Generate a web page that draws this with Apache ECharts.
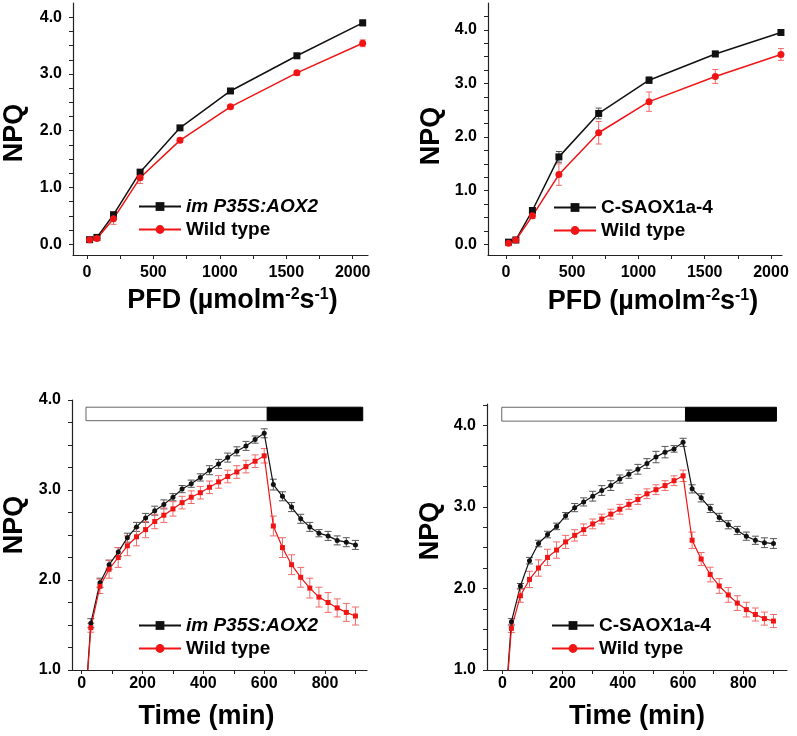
<!DOCTYPE html>
<html>
<head>
<meta charset="utf-8">
<script src="https://cdn.jsdelivr.net/npm/echarts@6/dist/echarts.min.js"></script>
<style>
  html, body { margin: 0; padding: 0; background: #fff; }
  #main { width: 797px; height: 736px; }
</style>
</head>
<body>
<div id="main"></div>
<script>
// light response (top row)
var pfd = [20, 75, 200, 400, 700, 1080, 1580, 2075];
var npqAox2 = [0.08, 0.12, 0.52, 1.27, 2.05, 2.70, 3.32, 3.90];
var errAox2 = [0.02, 0.02, 0.04, 0.04, 0.04, 0.03, 0.03, 0.05];
var npqWt1 = [0.08, 0.10, 0.45, 1.17, 1.83, 2.42, 3.02, 3.54];
var errWt1 = [0.03, 0.03, 0.10, 0.10, 0.04, 0.03, 0.04, 0.06];
var npqSaox = [0.04, 0.08, 0.63, 1.63, 2.44, 3.06, 3.55, 3.95];
var errSaox = [0.02, 0.02, 0.03, 0.10, 0.10, 0.06, 0.05, 0.04];
var npqWt2 = [0.02, 0.08, 0.53, 1.30, 2.08, 2.66, 3.13, 3.54];
var errWt2 = [0.02, 0.02, 0.05, 0.20, 0.21, 0.18, 0.13, 0.11];

// time course (bottom row)
var times = [0, 30, 60, 90, 120, 150, 180, 210, 240, 270, 300, 330, 360, 390, 420, 450,
  480, 510, 540, 570, 600, 630, 660, 690, 720, 750, 780, 810, 840, 870, 900];
var tAox2 = [0.05, 1.52, 1.97, 2.17, 2.31, 2.47, 2.59, 2.69, 2.77, 2.84, 2.92, 3.01, 3.07, 3.14, 3.22, 3.29,
  3.36, 3.43, 3.49, 3.56, 3.63, 3.06, 2.93, 2.81, 2.68, 2.59, 2.52, 2.49, 2.44, 2.42, 2.39];
var tAox2Err = [null, 0.05, 0.05, 0.05, 0.05, 0.05, 0.05, 0.05, 0.05, 0.05, 0.04, 0.04, 0.04, 0.04, 0.05, 0.05,
  0.05, 0.05, 0.05, 0.04, 0.05, 0.06, 0.05, 0.05, 0.05, 0.05, 0.04, 0.05, 0.05, 0.05, 0.05];
var tWt1 = [0.05, 1.47, 1.93, 2.12, 2.25, 2.38, 2.48, 2.56, 2.65, 2.72, 2.79, 2.86, 2.92, 2.97, 3.03, 3.09,
  3.15, 3.20, 3.26, 3.32, 3.38, 2.60, 2.36, 2.17, 2.03, 1.91, 1.81, 1.75, 1.69, 1.64, 1.60];
var tWt1Err = [null, 0.05, 0.08, 0.10, 0.11, 0.11, 0.10, 0.09, 0.08, 0.08, 0.08, 0.07, 0.07, 0.07, 0.07, 0.07,
  0.07, 0.07, 0.07, 0.07, 0.08, 0.11, 0.11, 0.11, 0.11, 0.11, 0.11, 0.11, 0.10, 0.10, 0.10];
var tSaox = [0.05, 1.59, 2.03, 2.34, 2.55, 2.66, 2.76, 2.89, 2.99, 3.06, 3.13, 3.20, 3.26, 3.34, 3.40, 3.46,
  3.53, 3.61, 3.67, 3.71, 3.79, 3.22, 3.11, 2.98, 2.87, 2.78, 2.71, 2.64, 2.59, 2.56, 2.55];
var tSaoxErr = [null, 0.04, 0.03, 0.04, 0.04, 0.04, 0.04, 0.04, 0.05, 0.05, 0.06, 0.06, 0.06, 0.05, 0.05, 0.06,
  0.06, 0.07, 0.07, 0.04, 0.05, 0.05, 0.05, 0.05, 0.05, 0.05, 0.05, 0.05, 0.05, 0.06, 0.06];
var tWt2 = [0.05, 1.51, 1.91, 2.11, 2.25, 2.38, 2.47, 2.57, 2.65, 2.72, 2.79, 2.85, 2.91, 2.97, 3.03, 3.09,
  3.16, 3.21, 3.26, 3.32, 3.38, 2.59, 2.36, 2.17, 2.03, 1.92, 1.82, 1.74, 1.68, 1.63, 1.60];
var tWt2Err = [null, 0.05, 0.08, 0.10, 0.10, 0.10, 0.10, 0.08, 0.07, 0.07, 0.06, 0.06, 0.06, 0.06, 0.06, 0.06,
  0.06, 0.06, 0.06, 0.06, 0.07, 0.10, 0.08, 0.09, 0.09, 0.09, 0.09, 0.09, 0.08, 0.08, 0.08];

// light / dark period bars [start, end] and their NPQ band [bottom, top]
var lightBar3 = [14, 610], darkBar3 = [610, 924], barBand3 = [3.77, 3.92];
var lightBar4 = [-2, 608], darkBar4 = [608, 910], barBand4 = [4.05, 4.22];

// tick values
var pfdLabels = [0, 500, 1000, 1500, 2000];
var pfdTicks = [0, 250, 500, 750, 1000, 1250, 1500, 1750, 2000];
var timeLabels = [0, 200, 400, 600, 800];
var timeTicks = [0, 100, 200, 300, 400, 500, 600, 700, 800, 900];
var npqLabelsTop = [0, 1, 2, 3, 4];
var npqTicksTop = [0, 0.25, 0.5, 0.75, 1, 1.25, 1.5, 1.75, 2, 2.25, 2.5, 2.75, 3, 3.25, 3.5, 3.75, 4, 4.25];
var npqLabelsBot = [1, 2, 3, 4];
var npqTicksBot = [1, 1.25, 1.5, 1.75, 2, 2.25, 2.5, 2.75, 3, 3.25, 3.5, 3.75, 4];

var FONT = "'Liberation Sans', Arial, sans-serif";
var BLACK = '#111', RED = '#f01414';
var NAME_A = 'im P35S:AOX2', NAME_B = 'C-SAOX1a-4', NAME_WT = 'Wild type';
var PFD_NAME = 'PFD (µmolm{sup|-2}s{sup|-1})';

var chart = echarts.init(document.getElementById('main'));

var xAxes = [], yAxes = [];
function addAxes(gi, o) {
  xAxes.push({
    type: 'value', gridIndex: gi, min: o.xmin, max: o.xmax, position: 'bottom',
    axisLine: { show: true, onZero: false, lineStyle: { color: '#222', width: 1.2 } },
    axisTick: { show: true, length: 4, customValues: o.xticks, lineStyle: { color: '#222', width: 1 } },
    axisLabel: {
      customValues: o.xlab, margin: o.xmargin, fontSize: 16, fontWeight: 'bold', color: '#000', fontFamily: FONT,
      formatter: function (v) { return String(v); }
    },
    splitLine: { show: false },
    name: o.xname, nameLocation: 'middle', nameGap: o.xgap,
    nameTextStyle: {
      fontSize: 27, fontWeight: 'bold', color: '#000', fontFamily: FONT, padding: o.xpad,
      rich: { sup: { fontSize: 16, fontWeight: 'bold', fontFamily: FONT, color: '#000', verticalAlign: 'top' } }
    }
  });
  yAxes.push({
    type: 'value', gridIndex: gi, min: o.ymin, max: o.ymax, position: 'left',
    axisLine: { show: true, onZero: false, lineStyle: { color: '#222', width: 1.2 } },
    axisTick: { show: true, length: 4, customValues: o.yticks, lineStyle: { color: '#222', width: 1 } },
    axisLabel: {
      customValues: o.ylab, margin: 11, fontSize: 16, fontWeight: 'bold', color: '#000', fontFamily: FONT,
      formatter: function (v) { return v.toFixed(1); }
    },
    splitLine: { show: false },
    name: 'NPQ', nameLocation: 'middle', nameGap: o.ygap,
    nameTextStyle: { fontSize: 27, fontWeight: 'bold', color: '#000', fontFamily: FONT, padding: o.ypad }
  });
}

addAxes(0, { xmin: -105, xmax: 2115, xlab: pfdLabels, xticks: pfdTicks, xmargin: 10, xname: PFD_NAME, xgap: 32, xpad: [0, 0, 0, 24],
  ymin: -0.19, ymax: 4.25, ylab: npqLabelsTop, yticks: npqTicksTop.slice(0, 17), ygap: 45, ypad: [0, 8, 0, 0] });
addAxes(1, { xmin: -135, xmax: 2083, xlab: pfdLabels, xticks: pfdTicks, xmargin: 10, xname: PFD_NAME, xgap: 33, xpad: [0, 0, 0, 36],
  ymin: -0.2, ymax: 4.5, ylab: npqLabelsTop, yticks: npqTicksTop, ygap: 43, ypad: [0, 14, 0, 0] });
addAxes(2, { xmin: -32, xmax: 938, xlab: timeLabels, xticks: timeTicks, xmargin: 6, xname: 'Time (min)', xgap: 33, xpad: [0, 26, 0, 0],
  ymin: 1, ymax: 4, ylab: npqLabelsBot, yticks: npqTicksBot, ygap: 44, ypad: [0, 0, 0, 20] });
addAxes(3, { xmin: -51, xmax: 945, xlab: timeLabels, xticks: timeTicks, xmargin: 6, xname: 'Time (min)', xgap: 33, xpad: [0, 0, 0, 0],
  ymin: 1, ymax: 4.26, ylab: npqLabelsBot, yticks: npqTicksBot.concat([4.25]), ygap: 43, ypad: [0, 0, 0, 12] });

function pairs(xs, ys) {
  return xs.map(function (x, i) { return [x, ys[i]]; });
}

function lineSeries(name, gi, xs, ys, color, symbol, size, width) {
  return {
    type: 'line', name: name, xAxisIndex: gi, yAxisIndex: gi,
    data: pairs(xs, ys), symbol: symbol, symbolSize: size, showSymbol: true,
    lineStyle: { color: color, width: width }, itemStyle: { color: color },
    z: 3, silent: true
  };
}

function errSeries(gi, xs, ys, es, color, cap) {
  var d = [];
  xs.forEach(function (x, i) {
    if (es[i] == null) return;
    d.push([x, ys[i] - es[i], ys[i] + es[i]]);
  });
  return {
    type: 'custom', name: 'err' + gi + color, xAxisIndex: gi, yAxisIndex: gi,
    data: d, silent: true, z: 2, itemStyle: { color: color },
    renderItem: function (params, api) {
      var lo = api.coord([api.value(0), api.value(1)]);
      var hi = api.coord([api.value(0), api.value(2)]);
      var st = { stroke: color, lineWidth: 1 };
      return {
        type: 'group',
        children: [
          { type: 'line', shape: { x1: lo[0], y1: lo[1], x2: hi[0], y2: hi[1] }, style: st },
          { type: 'line', shape: { x1: lo[0] - cap, y1: lo[1], x2: lo[0] + cap, y2: lo[1] }, style: st },
          { type: 'line', shape: { x1: hi[0] - cap, y1: hi[1], x2: hi[0] + cap, y2: hi[1] }, style: st }
        ]
      };
    }
  };
}

function periodBars(light, dark, band) {
  return {
    silent: true, label: { show: false },
    data: [
      [{ coord: [light[0], band[1]], itemStyle: { color: '#fff', borderColor: '#666', borderWidth: 1 } },
       { coord: [light[1], band[0]] }],
      [{ coord: [dark[0], band[1]], itemStyle: { color: '#000', borderColor: '#000', borderWidth: 1 } },
       { coord: [dark[1], band[0]] }]
    ]
  };
}

var EK = '#555', ER = '#f06a6a';
var series = [
  lineSeries(NAME_A, 0, pfd, npqAox2, BLACK, 'rect', 7, 1.5),
  lineSeries(NAME_WT, 0, pfd, npqWt1, RED, 'circle', 7, 1.5),
  errSeries(0, pfd, npqAox2, errAox2, EK, 3),
  errSeries(0, pfd, npqWt1, errWt1, ER, 3),
  lineSeries(NAME_B, 1, pfd, npqSaox, BLACK, 'rect', 7, 1.5),
  lineSeries(NAME_WT, 1, pfd, npqWt2, RED, 'circle', 7, 1.5),
  errSeries(1, pfd, npqSaox, errSaox, EK, 3),
  errSeries(1, pfd, npqWt2, errWt2, ER, 3),
  lineSeries(NAME_A, 2, times, tAox2, BLACK, 'circle', 5, 1.2),
  lineSeries(NAME_WT, 2, times, tWt1, RED, 'rect', 5, 1.2),
  errSeries(2, times, tAox2, tAox2Err, EK, 3.5),
  errSeries(2, times, tWt1, tWt1Err, ER, 3.5),
  lineSeries(NAME_B, 3, times, tSaox, BLACK, 'circle', 5, 1.2),
  lineSeries(NAME_WT, 3, times, tWt2, RED, 'rect', 5, 1.2),
  errSeries(3, times, tSaox, tSaoxErr, EK, 3.5),
  errSeries(3, times, tWt2, tWt2Err, ER, 3.5)
];
series[8].markArea = periodBars(lightBar3, darkBar3, barBand3);
series[12].markArea = periodBars(lightBar4, darkBar4, barBand4);

function legendAt(left, top, first) {
  return {
    orient: 'vertical', left: left, top: top, itemWidth: 42, itemHeight: 11, itemGap: 4,
    selectedMode: false, padding: 0,
    textStyle: { fontSize: 19, fontWeight: 'bold', color: '#000', fontFamily: FONT },
    data: [
      first === NAME_A ? { name: NAME_A, textStyle: { fontStyle: 'italic' } } : first,
      NAME_WT
    ]
  };
}

chart.setOption({
  animation: false,
  backgroundColor: '#fff',
  grid: [
    { left: 72, top: 3, width: 296, height: 252 },
    { left: 488, top: 3, width: 294, height: 252 },
    { left: 72, top: 400, width: 295, height: 270 },
    { left: 487, top: 404, width: 300, height: 266 }
  ],
  xAxis: xAxes,
  yAxis: yAxes,
  legend: [
    legendAt(138, 197, NAME_A),
    legendAt(553, 198, NAME_B),
    legendAt(138, 616, NAME_A),
    legendAt(551, 616, NAME_B)
  ],
  series: series
});
</script>
</body>
</html>
